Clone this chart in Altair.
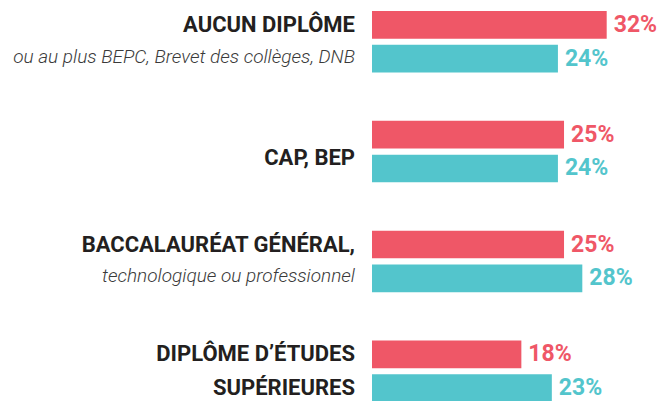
import altair as alt
import pandas as pd

# ---- data ----
group_ids = ["g1", "g2", "g3", "g4"]
title_lines = ["AUCUN DIPLÔME", "CAP, BEP", "BACCALAURÉAT GÉNÉRAL,", "DIPLÔME D’ÉTUDES"]
second_lines = ["ou au plus BEPC, Brevet des collèges, DNB", "", "technologique ou professionnel", "SUPÉRIEURES"]
second_italic = [True, False, True, False]
series_names = ["série 1", "série 2"]
red_values = [32, 25, 25, 18]
cyan_values = [24, 24, 28, 23]
axis_start = -6.5   # bars in the reference start from a non-zero baseline
axis_end = 41.4

RED = "#EF5767"
CYAN = "#53C5CC"
DARK = "#231F20"
GREY = "#3A3A3A"

rows = []
for g, r, c in zip(group_ids, red_values, cyan_values):
    rows.append({"group": g, "series": series_names[0], "value": r, "label": f"{r}%"})
    rows.append({"group": g, "series": series_names[1], "value": c, "label": f"{c}%"})
bars_df = pd.DataFrame(rows)

bold_rows, italic_rows, center_rows = [], [], []
for g, t, s, it in zip(group_ids, title_lines, second_lines, second_italic):
    if s == "":
        center_rows.append({"group": g, "text": t})
    else:
        bold_rows.append({"group": g, "series": series_names[0], "text": t})
        if it:
            italic_rows.append({"group": g, "series": series_names[1], "text": s})
        else:
            bold_rows.append({"group": g, "series": series_names[1], "text": s})

yscale = alt.Scale(type="band", domain=group_ids, paddingInner=0.44, paddingOuter=0)
yoscale = alt.Scale(type="band", domain=series_names, paddingInner=0.18, paddingOuter=0)
xscale = alt.Scale(domain=[axis_start, axis_end], zero=False, nice=False)
colscale = alt.Scale(domain=series_names, range=[RED, CYAN])

Y = alt.Y("group:N", scale=yscale, axis=None)
YO = alt.YOffset("series:N", scale=yoscale)
XLAB = alt.X(datum=axis_start, scale=xscale, axis=None)

bars = alt.Chart(bars_df).mark_bar().encode(
    y=Y, yOffset=YO,
    x=alt.X("value:Q", scale=xscale, axis=None),
    x2=alt.datum(axis_start),
    color=alt.Color("series:N", scale=colscale, legend=None),
)

pct = alt.Chart(bars_df).mark_text(
    align="left", baseline="middle", dx=7, font="Roboto", fontSize=23, fontWeight="bold"
).encode(
    y=Y, yOffset=YO,
    x=alt.X("value:Q", scale=xscale, axis=None),
    text="label:N",
    color=alt.Color("series:N", scale=colscale, legend=None),
)

bold_txt = alt.Chart(pd.DataFrame(bold_rows)).mark_text(
    align="right", baseline="middle", dx=-17, font="Roboto", fontSize=22, fontWeight="bold", color=DARK
).encode(y=Y, yOffset=YO, x=XLAB, text="text:N")

ital_txt = alt.Chart(pd.DataFrame(italic_rows)).mark_text(
    align="right", baseline="middle", dx=-17, dy=-2, font="Roboto", fontSize=19, fontStyle="italic",
    fontWeight=300, color=GREY
).encode(y=Y, yOffset=YO, x=XLAB, text="text:N")

center_txt = alt.Chart(pd.DataFrame(center_rows)).mark_text(
    align="right", baseline="middle", dx=-17, dy=6, font="Roboto", fontSize=22, fontWeight="bold", color=DARK
).encode(y=Y, x=XLAB, text="text:N")

chart = alt.layer(bars, pct, bold_txt, ital_txt, center_txt).properties(
    width=292, height=391,
    autosize=alt.AutoSizeParams(type="none"),
    padding={"left": 372, "top": 11, "right": 0, "bottom": 0},
).configure(background="white").configure_view(strokeWidth=0, stroke=None)

chart.save("out.html", embed_options={"renderer": "svg", "actions": False})
